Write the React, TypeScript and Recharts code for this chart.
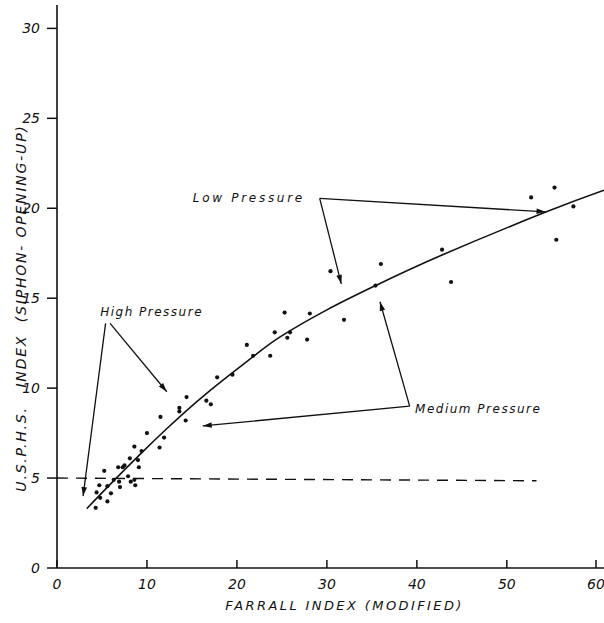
import * as React from "react"
import {
  ComposedChart,
  XAxis,
  YAxis,
  Line,
  Scatter,
  ReferenceLine,
  ReferenceDot,
} from "recharts"

// observed points (farrall index, usphs index)
const pointX = [
  4.3, 4.8, 5.6, 4.4, 6.0, 4.7, 5.6, 5.25, 6.3, 6.9, 7.0, 6.8, 7.3, 7.5, 7.9, 8.2, 8.6, 8.7,
  8.1, 8.6, 9.0, 9.1, 9.4, 10.0, 11.4, 11.9, 11.5, 13.6, 13.6, 14.3, 14.4, 16.6, 17.1, 17.8,
  19.5, 21.1, 21.8, 23.7, 24.2, 25.6, 25.9, 25.3, 27.8, 28.1, 30.4, 31.9, 35.4, 36.0, 42.8,
  43.8, 52.7, 55.3, 55.5, 57.4,
]
const pointY = [
  3.35, 3.9, 3.7, 4.2, 4.15, 4.6, 4.55, 5.4, 4.9, 4.8, 4.5, 5.6, 5.6, 5.7, 5.1, 4.8, 4.9, 4.6,
  6.1, 6.75, 6.0, 5.6, 6.5, 7.5, 6.7, 7.25, 8.4, 8.9, 8.7, 8.2, 9.5, 9.3, 9.1, 10.6,
  10.75, 12.4, 11.8, 11.8, 13.1, 12.8, 13.1, 14.2, 12.7, 14.15, 16.5, 13.8, 15.7, 16.9, 17.7,
  15.9, 20.6, 21.15, 18.25, 20.1,
]

// fitted curve
const curveX = [3.3, 6.4, 9.4, 12.1, 16.6, 21.8, 24.8, 30, 35.4, 42.8, 54.4, 60.8]
const curveY = [3.3, 4.9, 6.4, 7.7, 9.7, 11.75, 12.85, 14.35, 15.7, 17.4, 19.8, 21.0]

const xTicks = [0, 10, 20, 30, 40, 50, 60]
const yTicks = [0, 5, 10, 15, 20, 25, 30]

// dashed limit line at index 5
const limitFrom = { x: 0, y: 5 }
const limitTo = { x: 53.3, y: 4.85 }

const labels = ["Low Pressure", "High Pressure", "Medium Pressure"]
const labelX = [15.1, 4.8, 39.8]
const labelY = [20.55, 14.2, 8.8]

// arrows: [fromX, fromY, toX, toY]
const arrows = [
  [29.2, 20.55, 54.3, 19.8],
  [29.2, 20.55, 31.6, 15.8],
  [5.4, 13.6, 2.9, 4.0],
  [5.9, 13.6, 12.2, 9.8],
  [39.2, 9.0, 16.2, 7.9],
  [39.2, 9.0, 35.9, 14.8],
]

const points = pointX.map((x, i) => ({ x, y: pointY[i] }))
const curve = curveX.map((x, i) => ({ x, y: curveY[i] }))

const font = "'DejaVu Sans', sans-serif"
const ink = "#111"
const labelSpacing = [2.7, 1.5, 1.5]

function Arrow(props: any) {
  const { x1, y1, x2, y2 } = props
  const a = Math.atan2(y2 - y1, x2 - x1)
  const len = 9
  const w = 2.8
  const bx = x2 - len * Math.cos(a)
  const by = y2 - len * Math.sin(a)
  const px = -Math.sin(a) * w
  const py = Math.cos(a) * w
  return (
    <g>
      <line x1={x1} y1={y1} x2={x2} y2={y2} stroke={ink} strokeWidth={1.3} />
      <path d={`M${x2},${y2} L${bx + px},${by + py} L${bx - px},${by - py} Z`} fill={ink} />
    </g>
  )
}

function XTick(props: any) {
  const { x, y, payload } = props
  return (
    <g>
      <line x1={x} x2={x} y1={y} y2={y - 8} stroke={ink} strokeWidth={1.5} />
      <text x={x} y={y + 21} textAnchor="middle" fontFamily={font} fontStyle="italic" fontSize={14} fill={ink}>
        {payload.value}
      </text>
    </g>
  )
}

function XTitle(props: any) {
  const vb = props.viewBox
  return (
    <text
      x={vb.x + vb.width / 2 + 14}
      y={vb.y + 42}
      textAnchor="middle"
      fontFamily={font}
      fontStyle="italic"
      fontSize={13}
      letterSpacing={2.4}
      fill={ink}
    >
      FARRALL INDEX (MODIFIED)
    </text>
  )
}

function YTitle() {
  const x = 26
  const y = 308
  return (
    <text
      x={x}
      y={y}
      transform={`rotate(-90 ${x} ${y})`}
      textAnchor="middle"
      fontFamily={font}
      fontStyle="italic"
      fontSize={14}
      letterSpacing={1.8}
      fill={ink}
    >
      {"U.S.P.H.S.\u00a0\u00a0 INDEX\u00a0 (SIPHON- OPENING-UP)"}
    </text>
  )
}

export default function App() {
  return (
    <div style={{ position: "absolute", left: 0, top: 0, background: "#fff" }}>
      <ComposedChart width={604} height={623} margin={{ top: 5, right: 0, left: 0, bottom: 0 }}>
        <XAxis
          dataKey="x"
          type="number"
          domain={[0, 60.8]}
          ticks={xTicks}
          allowDataOverflow
          height={55}
          tickSize={0}
          tickMargin={0}
          tick={<XTick />}
          axisLine={{ stroke: ink, strokeWidth: 1.6 }}
          label={{ content: (p: any) => <XTitle {...p} /> }}
        />
        <YAxis
          dataKey="y"
          type="number"
          domain={[0, 31.3]}
          ticks={yTicks}
          allowDataOverflow
          width={57}
          tickSize={10}
          tickMargin={7}
          tickLine={{ stroke: ink, strokeWidth: 1.5 }}
          axisLine={{ stroke: ink, strokeWidth: 1.6 }}
          tick={{ fontFamily: font, fontStyle: "italic", fontSize: 14, fill: ink }}
          label={{ content: () => <YTitle /> }}
        />
        <ReferenceLine
          segment={[limitFrom, limitTo]}
          stroke={ink}
          strokeWidth={1.4}
          strokeDasharray="11 8"
        />
        {arrows.map((a, i) => (
          <ReferenceLine
            key={"a" + i}
            segment={[{ x: a[0], y: a[1] }, { x: a[2], y: a[3] }]}
            shape={(p: any) => <Arrow {...p} />}
          />
        ))}
        {labels.map((t, i) => (
          <ReferenceDot
            key={"l" + i}
            x={labelX[i]}
            y={labelY[i]}
            r={0}
            shape={(p: any) => (
              <text
                x={p.cx}
                y={p.cy}
                dominantBaseline="middle"
                fontFamily={font}
                fontStyle="italic"
                fontSize={12}
                letterSpacing={labelSpacing[i]}
                fill={ink}
              >
                {t}
              </text>
            )}
          />
        ))}
        <Line
          data={curve}
          dataKey="y"
          type="natural"
          stroke={ink}
          strokeWidth={1.6}
          dot={false}
          isAnimationActive={false}
        />
        <Scatter
          data={points}
          dataKey="y"
          isAnimationActive={false}
          shape={(p: any) => <circle cx={p.cx} cy={p.cy} r={2.1} fill={ink} />}
        />
      </ComposedChart>
    </div>
  )
}
